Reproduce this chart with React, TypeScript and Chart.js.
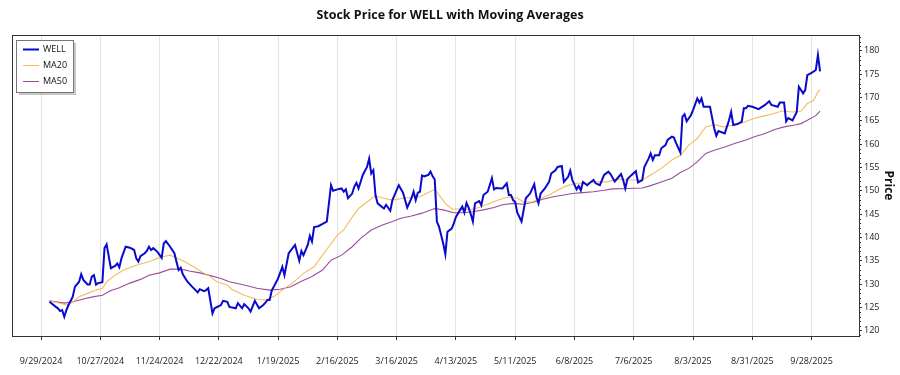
import React, { useEffect, useRef } from "react";
import { Chart, registerables } from "chart.js";

Chart.register(...registerables);

// Day offsets are counted from 9/29/2024.
const wellDays = [4,7,8,9,10,11,12,13,15,16,18,19,20,22,23,24,25,26,27,29,30,31,33,35,36,37,38,40,42,44,45,46,47,49,50,51,52,53,55,57,58,59,61,63,64,65,66,67,69,71,73,74,75,77,78,79,81,82,85,86,88,89,92,93,95,96,98,99,101,103,105,106,107,108,109,112,114,115,117,120,122,123,124,126,127,128,129,131,133,135,137,138,140,142,143,144,145,147,148,149,150,152,154,155,156,157,158,159,162,163,165,166,169,171,173,175,176,177,178,179,180,181,183,184,185,186,187,188,189,190,191,192,194,195,196,198,199,200,201,202,203,204,205,207,208,209,211,213,214,215,218,220,221,222,223,224,225,227,229,231,233,234,235,236,238,240,241,243,244,246,247,249,250,251,253,254,255,256,258,259,261,262,264,266,268,269,271,274,275,276,277,279,281,282,284,285,287,288,289,290,292,293,295,296,298,299,300,302,303,304,305,307,308,310,311,312,313,316,318,319,320,323,325,326,327,329,331,332,333,334,336,339,342,344,345,348,349,351,352,353,355,356,357,358,360,361,362,364,366,367,368];
const wellPrices = [126.2,125.1,124.8,124.2,124.4,123.0,124.4,125.5,127.3,129.4,130.5,132.1,130.9,129.9,129.9,131.6,131.9,129.9,130.2,130.4,137.7,138.5,133.4,133.9,134.4,133.6,135.5,138.0,137.8,137.3,135.5,134.8,136.0,136.6,137.1,138.0,137.3,137.7,136.9,135.6,138.7,139.2,138.0,136.6,134.8,133.0,133.5,132.1,130.6,129.6,128.7,128.2,128.9,128.5,128.7,129.1,123.7,124.8,125.5,126.4,126.2,125.1,124.8,125.9,124.8,125.7,124.8,124.1,126.4,124.8,125.5,126.0,126.6,126.6,128.6,131.2,133.7,131.9,136.6,138.4,135.0,137.1,136.2,138.4,140.3,139.1,142.2,142.4,142.9,143.4,151.2,150.0,150.3,150.5,149.8,150.3,148.4,149.4,150.9,151.7,150.5,153.4,155.1,156.9,153.7,154.4,149.1,147.3,146.2,147.0,145.7,148.0,151.2,149.6,146.4,148.4,149.8,148.0,149.6,149.8,153.3,153.1,153.4,154.1,153.1,152.4,143.4,142.3,140.5,138.7,136.4,141.2,141.9,143.0,144.4,145.9,146.6,145.3,147.4,146.4,145.0,143.4,147.3,147.8,146.9,149.1,149.8,152.7,150.3,150.6,150.5,151.6,149.1,149.1,148.0,147.6,145.3,143.4,148.4,149.4,151.4,148.7,147.3,149.4,150.5,151.9,153.7,154.4,155.1,155.3,151.9,153.0,154.3,152.3,150.3,151.0,150.1,151.9,151.2,151.6,152.3,151.6,151.2,153.4,154.1,153.6,152.0,153.6,152.3,150.5,152.5,153.4,154.2,151.8,152.3,155.1,156.9,158.0,156.6,157.6,157.6,159.1,159.8,160.9,161.6,161.4,160.2,158.2,165.9,166.4,164.9,166.2,167.3,169.8,168.9,169.8,168.0,168.0,163.4,161.8,162.8,162.3,165.1,166.9,164.1,164.3,164.8,167.7,167.7,168.2,168.0,167.5,168.4,169.2,168.4,168.0,168.9,168.9,164.9,165.6,165.1,166.0,166.9,172.3,170.9,171.6,174.8,175.3,175.9,179.1,175.6];

const ma20Days = [4,9,12,15,18,22,26,29,31,35,39,43,47,51,55,58,61,64,68,72,76,80,83,88,90,96,102,106,110,114,119,124,129,133,137,140,143,146,150,154,158,162,166,171,176,179,182,186,188,191,194,198,203,207,212,217,221,225,228,232,236,240,244,248,253,258,262,267,273,277,284,288,293,298,302,306,310,314,318,322,327,332,336,340,345,350,355,359,362,365,367,368];
const ma20Values = [126.4,125.9,125.5,126.1,127.3,128.0,128.7,129.1,130.5,131.9,133.0,133.7,134.3,134.8,135.5,135.9,136.2,135.6,134.8,133.7,132.6,131.6,130.5,129.8,128.9,127.6,126.7,126.6,127.3,128.7,130.3,132.3,133.7,136.2,138.7,140.5,141.6,143.7,146.2,147.6,148.9,148.4,148.0,148.4,148.6,148.7,149.4,150.3,149.1,147.3,146.1,146.1,146.0,146.4,147.3,148.2,148.7,148.4,147.6,147.6,148.4,149.1,150.1,151.0,151.6,151.6,151.9,151.9,152.5,152.3,152.3,153.4,154.8,156.6,157.6,159.8,161.2,163.7,164.2,163.7,164.1,164.7,165.4,165.9,166.4,167.1,166.9,167.1,168.7,169.4,171.2,171.6];

const ma50Days = [4,11,15,20,25,29,33,37,42,47,51,56,61,66,70,75,80,85,89,96,102,108,113,118,123,128,133,137,142,147,151,156,161,166,170,175,180,186,190,195,199,204,209,214,218,223,228,233,237,242,247,251,256,261,266,270,277,284,288,293,298,302,306,310,314,318,323,328,333,337,342,347,351,356,359,362,366,368];
const ma50Values = [126.4,125.9,126.2,126.8,127.3,127.6,128.6,129.2,130.2,131.0,131.9,132.4,133.2,133.2,132.8,132.4,131.8,131.2,130.5,129.8,129.1,128.7,128.9,129.4,130.6,131.6,133.0,135.1,136.2,138.0,139.8,141.6,142.6,143.4,144.1,144.6,145.2,146.2,145.9,145.3,145.3,145.5,145.9,146.4,147.0,147.3,147.1,147.6,148.2,148.7,149.1,149.4,149.6,149.8,150.1,150.4,150.5,150.6,151.1,151.9,152.7,153.9,154.8,156.2,158.0,158.7,159.4,160.2,160.9,161.6,162.3,163.2,163.7,164.1,164.4,165.1,166.1,167.1];

const seriesNames = ["WELL", "MA20", "MA50"];
const seriesColors = ["#0A0ACF", "#F2BE5E", "#9A4C9E"];
const chartTitle = "Stock Price for WELL with Moving Averages";
const yAxisTitle = "Price";

const START = Date.UTC(2024, 8, 29);
function fmtDate(v: number): string {
  const d = new Date(START + Math.round(v) * 86400000);
  return `${d.getUTCMonth() + 1}/${d.getUTCDate()}/${d.getUTCFullYear()}`;
}

const FONT = "'Open Sans', 'Noto Sans', sans-serif";

const framePlugin = {
  id: "frameAndExtras",
  afterDraw(chart: any) {
    const { ctx, chartArea: a } = chart;
    ctx.save();
    // frame
    ctx.strokeStyle = "#333";
    ctx.lineWidth = 1;
    ctx.strokeRect(Math.round(a.left) + 0.5, Math.round(a.top) + 0.5, Math.round(a.right - a.left), Math.round(a.bottom - a.top));
    // minor ticks on y axis
    const y = chart.scales.y;
    ctx.beginPath();
    for (let v = Math.ceil(y.min); v <= y.max; v++) {
      if (v % 5 === 0) continue;
      const py = Math.round(y.getPixelForValue(v)) + 0.5;
      ctx.moveTo(Math.round(a.right), py);
      ctx.lineTo(Math.round(a.right) + 2, py);
    }
    ctx.stroke();
    // title
    ctx.fillStyle = "#111";
    ctx.font = `bold 12.5px ${FONT}`;
    ctx.textAlign = "center";
    ctx.textBaseline = "middle";
    ctx.fillText(chartTitle, 450, 15);
    // legend
    const lx = 16, ly = 40, lw = 57, lh = 52;
    ctx.fillStyle = "rgba(0,0,0,0.22)";
    ctx.fillRect(lx + 3, ly + 3, lw, lh);
    ctx.fillStyle = "#fff";
    ctx.fillRect(lx, ly, lw, lh);
    ctx.strokeStyle = "#777";
    ctx.strokeRect(lx + 0.5, ly + 0.5, lw, lh);
    ctx.font = `9px ${FONT}`;
    ctx.textAlign = "left";
    seriesNames.forEach((n, i) => {
      const ry = ly + 9.5 + i * 16;
      ctx.strokeStyle = seriesColors[i];
      ctx.lineWidth = i === 0 ? 2 : 1;
      ctx.beginPath();
      ctx.moveTo(lx + 7, ry);
      ctx.lineTo(lx + 23, ry);
      ctx.stroke();
      ctx.fillStyle = "#111";
      ctx.fillText(n, lx + 27, ry);
    });
    ctx.restore();
  },
};

export default function App() {
  const ref = useRef<HTMLCanvasElement>(null);
  useEffect(() => {
    document.body.style.margin = "0";
    const mk = (days: number[], vals: number[]) => days.map((d, i) => ({ x: d, y: vals[i] }));
    const chart = new Chart(ref.current!, {
      type: "line",
      data: {
        datasets: [
          { label: seriesNames[0], data: mk(wellDays, wellPrices), borderColor: seriesColors[0], borderWidth: 2, pointRadius: 0, tension: 0 },
          { label: seriesNames[1], data: mk(ma20Days, ma20Values), borderColor: seriesColors[1], borderWidth: 1.1, pointRadius: 0, tension: 0 },
          { label: seriesNames[2], data: mk(ma50Days, ma50Values), borderColor: seriesColors[2], borderWidth: 1.1, pointRadius: 0, tension: 0 },
        ],
      },
      options: {
        responsive: false,
        animation: false,
        layout: { padding: { left: 12, top: 35, right: 0, bottom: 0 } },
        plugins: { legend: { display: false }, title: { display: false }, tooltip: { enabled: false } },
        scales: {
          x: {
            type: "linear",
            min: -13.7,
            max: 386.4,
            ticks: { stepSize: 28, includeBounds: false, autoSkip: false, maxRotation: 0, padding: 16, color: "#222", font: { family: FONT, size: 9 }, callback: (v: any) => fmtDate(Number(v)) },
            grid: { color: "#e4e4e4", tickColor: "#333", tickLength: 4 },
            border: { display: false },
            afterFit: (s: any) => { s.height = 39; },
          },
          y: {
            type: "linear",
            position: "right",
            min: 118.86,
            max: 183.4,
            ticks: { stepSize: 5, includeBounds: false, padding: 2, color: "#222", font: { family: FONT, size: 9 } },
            grid: { drawOnChartArea: false, tickColor: "#333", tickLength: 3 },
            border: { display: false },
            title: { display: true, text: yAxisTitle, color: "#111", font: { family: FONT, size: 12, weight: "bold" }, padding: { top: 4, bottom: 0 } },
            afterFit: (s: any) => { s.width = 41; },
          },
        },
      },
      plugins: [framePlugin],
    } as any);
    return () => chart.destroy();
  }, []);
  return <canvas ref={ref} width={900} height={375} style={{ display: "block" }} />;
}
